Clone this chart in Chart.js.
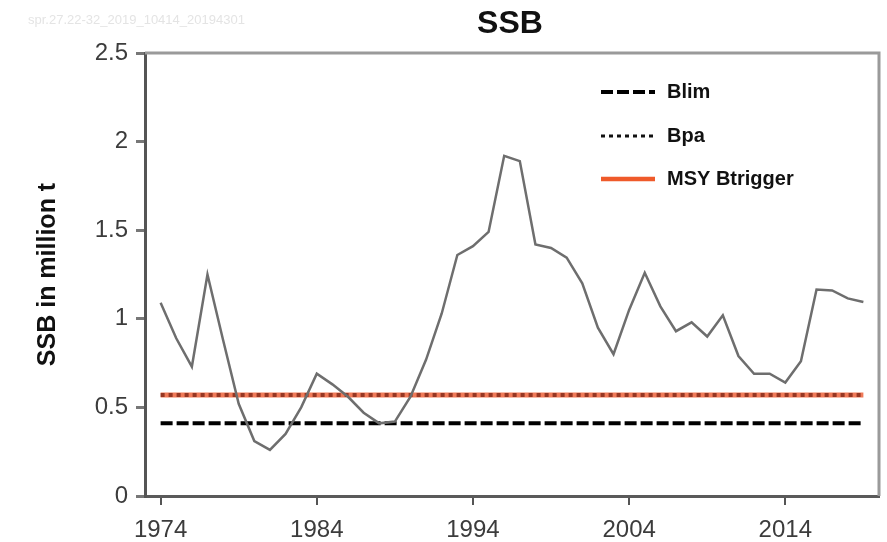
<!DOCTYPE html>
<html>
<head>
<meta charset="utf-8">
<script src="https://cdn.jsdelivr.net/npm/chart.js@4.4.1/dist/chart.umd.min.js"></script>
<style>
html,body{margin:0;padding:0;background:#fff;}
canvas{display:block;}
</style>
</head>
<body>
<canvas id="c" width="887" height="542"></canvas>
<script>
const years = [1974,1975,1976,1977,1978,1979,1980,1981,1982,1983,1984,1985,1986,1987,1988,1989,1990,1991,1992,1993,1994,1995,1996,1997,1998,1999,2000,2001,2002,2003,2004,2005,2006,2007,2008,2009,2010,2011,2012,2013,2014,2015,2016,2017,2018,2019];
const ssb = [1.09,0.89,0.73,1.25,0.88,0.52,0.31,0.26,0.35,0.50,0.69,0.63,0.56,0.47,0.41,0.42,0.56,0.77,1.03,1.36,1.41,1.49,1.92,1.89,1.42,1.40,1.345,1.20,0.95,0.80,1.05,1.26,1.07,0.93,0.98,0.90,1.02,0.79,0.69,0.69,0.64,0.76,1.165,1.16,1.115,1.095];
const blim = 0.41;
const bpa = 0.57;
const msyBtrigger = 0.57;
const refStart = 1974, refEnd = 2019;
const xTicks = [1974,1984,1994,2004,2014];
const yTicks = [0,0.5,1,1.5,2,2.5];
const yTickLabels = ['0','0.5','1','1.5','2','2.5'];
const chartTitle = 'SSB';
const yTitle = 'SSB in million t';
const stamp = 'spr.27.22-32_2019_10414_20194301';

const ssbPts = years.map((y,i)=>({x:y,y:ssb[i]}));
const flat = v => [{x:refStart,y:v},{x:refEnd,y:v}];

const decor = {
  id:'decor',
  beforeDatasetsDraw(chart){
    const {ctx, chartArea:a} = chart;
    ctx.save();
    ctx.strokeStyle = '#9a9a9a';
    ctx.lineWidth = 3;
    ctx.beginPath();
    ctx.moveTo(a.left, a.top); ctx.lineTo(a.right, a.top); ctx.lineTo(a.right, a.bottom);
    ctx.stroke();
    ctx.restore();
  },
  afterDraw(chart){
    const {ctx, chartArea:a} = chart;
    ctx.save();
    ctx.fillStyle = '#e4e4e4';
    ctx.font = '13px "Liberation Sans", Arial, sans-serif';
    ctx.textAlign = 'left'; ctx.textBaseline = 'middle';
    ctx.fillText(stamp, 28, 20);
    ctx.fillStyle = '#111';
    ctx.font = 'bold 32px "Liberation Sans", Arial, sans-serif';
    ctx.textAlign = 'center';
    ctx.fillText(chartTitle, (a.left + a.right)/2 - 2, 24);
    ctx.save();
    ctx.translate(48, (a.top + a.bottom)/2);
    ctx.rotate(-Math.PI/2);
    ctx.font = 'bold 25px "Liberation Sans", Arial, sans-serif';
    ctx.fillText(yTitle, 0, 0);
    ctx.restore();
    const rows = [92, 136, 179];
    const order = [1, 2, 3];
    ctx.font = 'bold 20px "Liberation Sans", Arial, sans-serif';
    ctx.textAlign = 'left';
    order.forEach((di, k) => {
      const ds = chart.data.datasets[di];
      const y = rows[k];
      ctx.save();
      ctx.strokeStyle = ds.legendColor || ds.borderColor;
      ctx.lineWidth = ds.legendWidth || ds.borderWidth;
      ctx.setLineDash(ds.borderDash || []);
      ctx.beginPath(); ctx.moveTo(601, y); ctx.lineTo(655, y); ctx.stroke();
      ctx.restore();
      ctx.fillStyle = '#111';
      ctx.fillText(ds.label, 667, y);
    });
    ctx.restore();
  }
};

new Chart(document.getElementById('c'), {
  type: 'line',
  data: {
    datasets: [
      {label:'SSB', data: ssbPts, borderColor:'#6e6e6e', borderWidth:2.5, pointRadius:0, tension:0, order:0},
      {label:'Blim', data: flat(blim), borderColor:'#000', borderWidth:4, borderDash:[12,4], pointRadius:0, order:1},
      {label:'Bpa', data: flat(bpa), borderColor:'rgba(90,10,0,0.6)', legendColor:'#111', legendWidth:3, borderWidth:4, borderDash:[4,4], pointRadius:0, order:2},
      {label:'MSY Btrigger', data: flat(msyBtrigger), borderColor:'#f07a58', legendColor:'#ef5a2a', legendWidth:4.5, borderWidth:5, pointRadius:0, order:3}
    ]
  },
  options: {
    responsive:false, devicePixelRatio:1, animation:false,
    layout:{padding:{top:53, right:8, left:0, bottom:0}},
    plugins:{legend:{display:false}, title:{display:false}, tooltip:{enabled:false}},
    scales:{
      x:{type:'linear', min:1973, max:2020,
        afterFit(s){ s.height = 46; },
        afterBuildTicks(s){ s.ticks = xTicks.map(v=>({value:v})); },
        grid:{display:true, drawOnChartArea:false, drawTicks:true, tickLength:9, color:'#555', lineWidth:2},
        border:{display:true, color:'#5a5a5a', width:3},
        ticks:{autoSkip:false, maxRotation:0, padding:11, color:'#3c3c3c',
          font:{family:'"Liberation Sans", Arial, sans-serif', size:24},
          callback:(v)=>String(v)}
      },
      y:{type:'linear', min:0, max:2.5,
        afterFit(s){ s.width = 145; },
        afterBuildTicks(s){ s.ticks = yTicks.map(v=>({value:v})); },
        grid:{display:true, drawOnChartArea:false, drawTicks:true, tickLength:9, color:'#777', lineWidth:3},
        border:{display:true, color:'#555', width:3},
        ticks:{padding:8, color:'#3c3c3c',
          font:{family:'"Liberation Sans", Arial, sans-serif', size:24},
          callback:(v)=>yTickLabels[yTicks.indexOf(v)] ?? String(v)}
      }
    }
  },
  plugins:[decor]
});
</script>
</body>
</html>
